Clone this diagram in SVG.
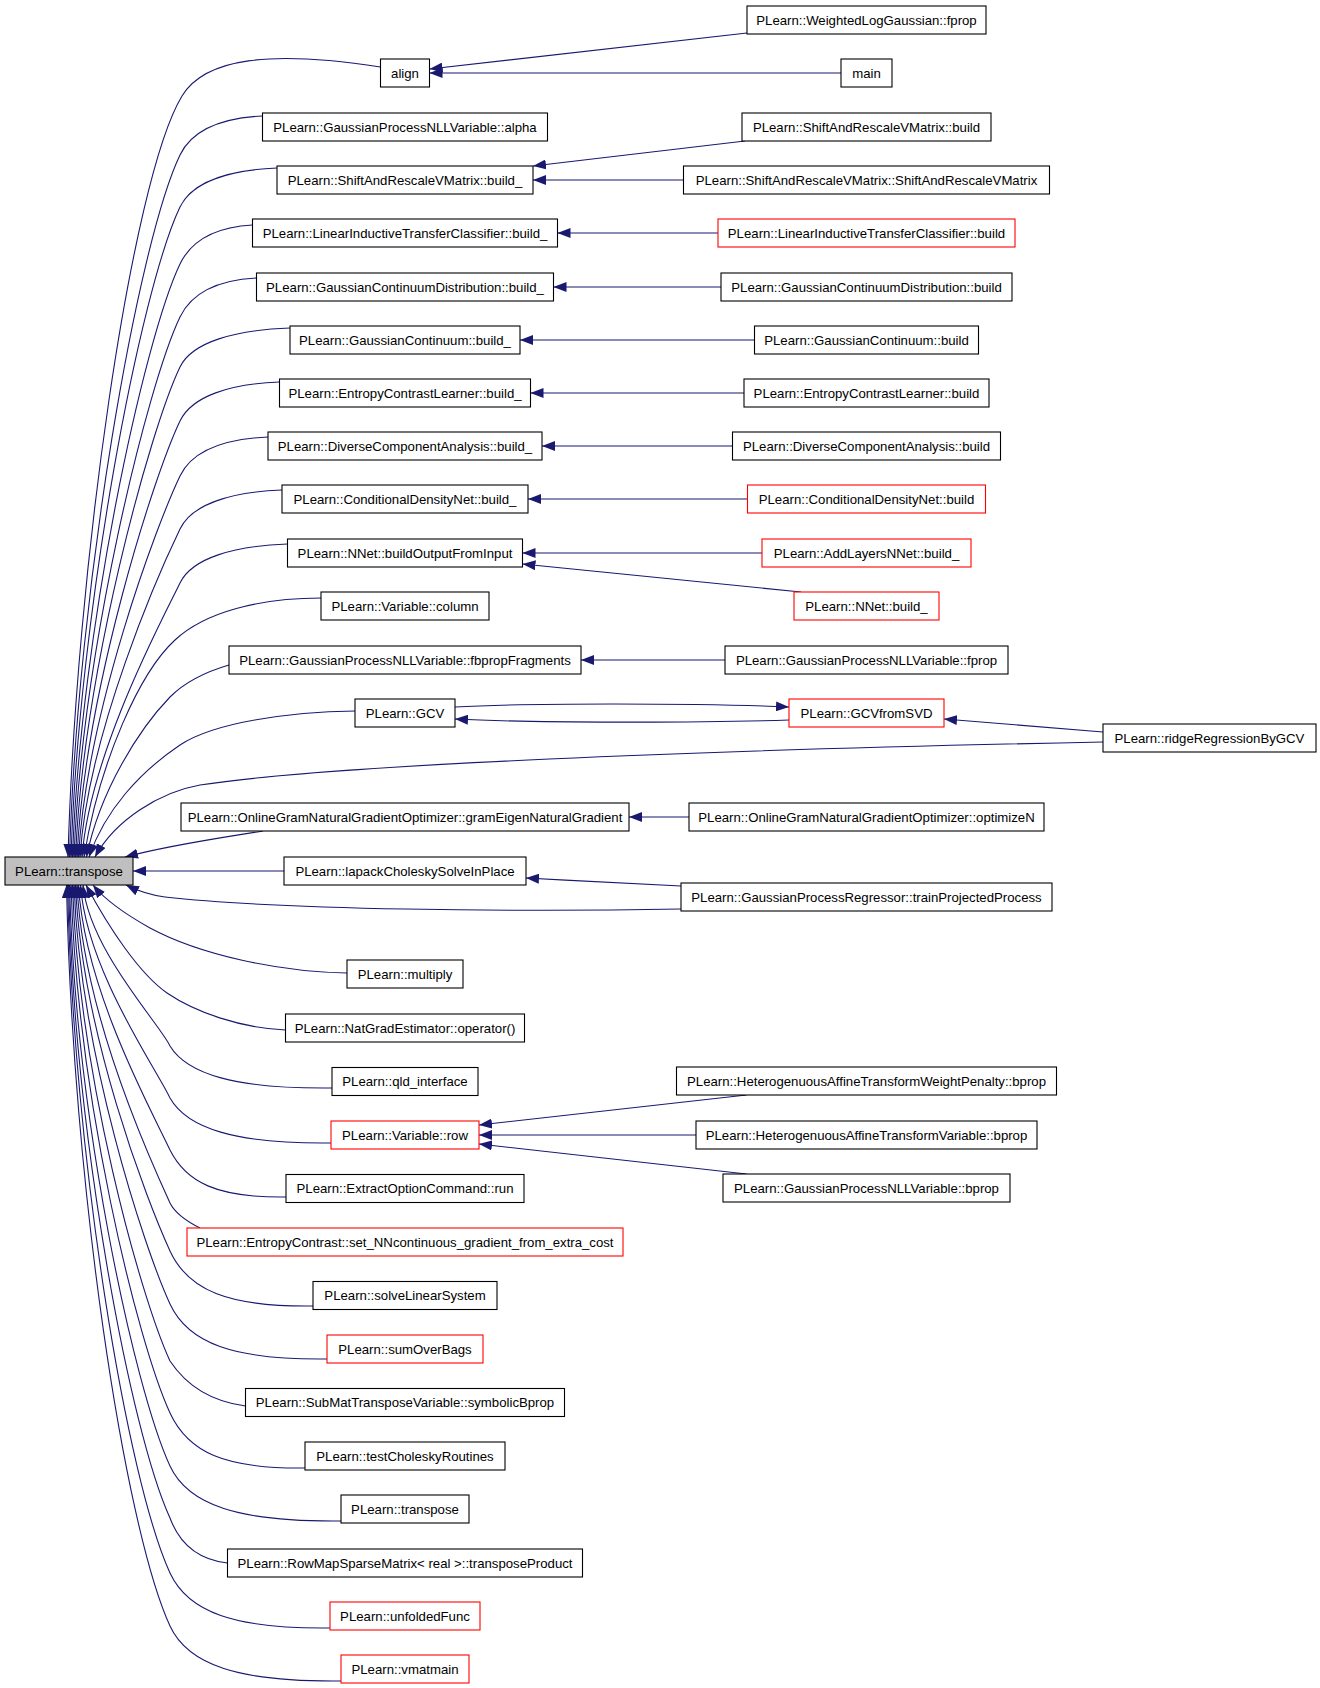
<svg xmlns="http://www.w3.org/2000/svg" width="1320" height="1688" viewBox="0 0 1320 1688">
<defs>
<style>
.n rect{fill:#ffffff;stroke:#000000;stroke-width:1.1}
.n.r rect{stroke:#ff0000}
.n.root rect{fill:#bfbfbf}
.n text{font-family:"Liberation Sans",Arial,Helvetica,sans-serif;font-size:13.2px;text-anchor:middle;fill:#000000}
.e path{fill:none;stroke:#191970;stroke-width:1.1;marker-end:url(#ah)}
</style>
<marker id="ah" markerUnits="userSpaceOnUse" markerWidth="13" markerHeight="10" viewBox="0 0 13 10" refX="13" refY="5" orient="auto">
<path d="M0,0 L13,5 L0,10 Z" fill="#191970"/>
</marker>
</defs>
<rect x="0" y="0" width="1320" height="1688" fill="#ffffff"/>
<g id="edges" class="e">
<path d="M747,33 L429.5,69"/>
<path d="M841,73 L429.5,73"/>
<path d="M745,141 L533,166"/>
<path d="M683.5,180 L533,180"/>
<path d="M718,233 L557.5,233"/>
<path d="M721,287 L553.5,287"/>
<path d="M754.5,340 L520,340"/>
<path d="M744,393 L530.5,393"/>
<path d="M732.5,446 L542,446"/>
<path d="M747.5,499 L528,499"/>
<path d="M762,553 L522.5,553"/>
<path d="M801,592 L522.5,564"/>
<path d="M725,660 L581,660"/>
<path d="M455,707 C520,703 700,703 789,707"/>
<path d="M789,720 C700,723 530,723 455,719"/>
<path d="M1103,732 L944,719"/>
<path d="M689,817 L629,817"/>
<path d="M681,886 C640,884 580,881 526,878"/>
<path d="M746.5,1095 L479,1125"/>
<path d="M696,1135 L479,1135"/>
<path d="M746.5,1174 L479,1144"/>
<path d="M380.5,67 C270,50 205,58 182,96 C131,180 76,571 68,857"/>
<path d="M262.5,116 C221.3,118 192,130 180,155 C137.4,243.7 77.5,590.2 69.5,857"/>
<path d="M277,168 C228.5,170 192,182 180,207 C140.6,289 79,610 71,857"/>
<path d="M252.5,225 C216.3,227 192,239 180,264 C144,339 80.5,631.7 72.5,857"/>
<path d="M256.5,278 C218.3,280 192,292 180,317 C147.2,385.3 82,651.8 74,857"/>
<path d="M290,328 C235,330 192,342 180,367 C150.2,429 83.5,670.8 75.5,857"/>
<path d="M279.5,382 C229.8,384 192,396 180,421 C153.6,476 85,691.3 77,857"/>
<path d="M268,437 C224,439 192,451 180,476 C156.8,524.3 86.5,712.2 78.5,857"/>
<path d="M282,490 C231,492 192,504 180,529 C160,570.5 88,732.4 80,857"/>
<path d="M287.5,544 C233.8,546 192,558 180,583 C163.4,617.5 90,752.9 82,857"/>
<path d="M321,598 C260,598 205,612 175,640 C140,672 100,760 84,857"/>
<path d="M229,665 C205,672 185,682 170,697 C140,728 100,790 86.5,857"/>
<path d="M355,711 C290,712 215,722 180,745 C140,772 105,810 89,857"/>
<path d="M1103,742 C700,750 330,765 200,785 C160,792 115,820 95,857"/>
<path d="M263,831 C220,838 170,845 125,857"/>
<path d="M284,871 L133,871"/>
<path d="M681,909 C520,912 280,910 165,897 C150,895 138,891 126,885"/>
<path d="M347,973 C280,972 200,955 150,928 C125,914 105,900 93,885"/>
<path d="M285.5,1030 C240,1028 195,1012 167,993 C140,974 110,930 86,885"/>
<path d="M332,1088 C235,1089 187,1074 170,1046 C160,1024.3 89,949.4 83,885"/>
<path d="M331,1143 C234.4,1144 187,1128 170,1098 C156.8,1069.3 86.5,970.2 80.5,885"/>
<path d="M286,1197 C216.4,1198 186,1182 170,1150 C153.5,1114.2 84.5,991 78.5,885"/>
<path d="M200,1228 C190,1223 176,1215 170,1203 C150.3,1160.1 83,1012.2 77,885"/>
<path d="M313,1306 C227.2,1307 188,1290 170,1251 C147.3,1201.6 81.5,1031.4 75.5,885"/>
<path d="M327,1359 C232.8,1360 188,1343 170,1304 C144,1247.5 80,1052.6 74,885"/>
<path d="M245.5,1406 C215,1402 188,1388 170,1361 C140.5,1296.8 78.5,1075.4 72.5,885"/>
<path d="M305,1468 C224,1469 188,1452 170,1413 C137.2,1341.8 77,1096.2 71,885"/>
<path d="M341,1521 C238.4,1522 188,1505 170,1466 C133.9,1387.6 75.5,1117.4 69.5,885"/>
<path d="M227.5,1563 C200,1560 180,1545 170,1518 C130.7,1432.6 74.5,1138.2 68.5,885"/>
<path d="M330,1628 C234,1629 188,1612 170,1573 C127.3,1480.2 73.5,1160.2 67.5,885"/>
<path d="M341,1681 C238.4,1682 188,1665 170,1626 C124,1526 72.5,1181.4 66.5,885"/>
</g>
<g id="n_root" class="n root"><rect x="5" y="857" width="128" height="28"/><text x="69" y="875.7">PLearn::transpose</text></g>
<g id="n_align" class="n"><rect x="380.5" y="59" width="49" height="28"/><text x="405" y="77.7">align</text></g>
<g id="n_alpha" class="n"><rect x="262.5" y="113" width="285" height="28"/><text x="405" y="131.7">PLearn::GaussianProcessNLLVariable::alpha</text></g>
<g id="n_sarvm_build_" class="n"><rect x="277" y="166" width="256" height="28"/><text x="405" y="184.7">PLearn::ShiftAndRescaleVMatrix::build_</text></g>
<g id="n_litc_build_" class="n"><rect x="252.5" y="219" width="305" height="28"/><text x="405" y="237.7">PLearn::LinearInductiveTransferClassifier::build_</text></g>
<g id="n_gcd_build_" class="n"><rect x="256.5" y="273" width="297" height="28"/><text x="405" y="291.7">PLearn::GaussianContinuumDistribution::build_</text></g>
<g id="n_gc_build_" class="n"><rect x="290" y="326" width="230" height="28"/><text x="405" y="344.7">PLearn::GaussianContinuum::build_</text></g>
<g id="n_ecl_build_" class="n"><rect x="279.5" y="379" width="251" height="28"/><text x="405" y="397.7">PLearn::EntropyContrastLearner::build_</text></g>
<g id="n_dca_build_" class="n"><rect x="268" y="432" width="274" height="28"/><text x="405" y="450.7">PLearn::DiverseComponentAnalysis::build_</text></g>
<g id="n_cdn_build_" class="n"><rect x="282" y="485" width="246" height="28"/><text x="405" y="503.7">PLearn::ConditionalDensityNet::build_</text></g>
<g id="n_buildoutput" class="n"><rect x="287.5" y="539" width="235" height="28"/><text x="405" y="557.7">PLearn::NNet::buildOutputFromInput</text></g>
<g id="n_column" class="n"><rect x="321" y="592" width="168" height="28"/><text x="405" y="610.7">PLearn::Variable::column</text></g>
<g id="n_fbprop" class="n"><rect x="229" y="646" width="352" height="28"/><text x="405" y="664.7">PLearn::GaussianProcessNLLVariable::fbpropFragments</text></g>
<g id="n_gcv" class="n"><rect x="355" y="699" width="100" height="28"/><text x="405" y="717.7">PLearn::GCV</text></g>
<g id="n_grameigen" class="n"><rect x="181" y="803" width="448" height="28"/><text x="405" y="821.7">PLearn::OnlineGramNaturalGradientOptimizer::gramEigenNaturalGradient</text></g>
<g id="n_lapack" class="n"><rect x="284" y="857" width="242" height="28"/><text x="405" y="875.7">PLearn::lapackCholeskySolveInPlace</text></g>
<g id="n_multiply" class="n"><rect x="347" y="960" width="116" height="28"/><text x="405" y="978.7">PLearn::multiply</text></g>
<g id="n_natgrad" class="n"><rect x="285.5" y="1014" width="239" height="28"/><text x="405" y="1032.7">PLearn::NatGradEstimator::operator()</text></g>
<g id="n_qld" class="n"><rect x="332" y="1067.5" width="146" height="28"/><text x="405" y="1086.2">PLearn::qld_interface</text></g>
<g id="n_row" class="n r"><rect x="331" y="1121" width="148" height="28"/><text x="405" y="1139.7">PLearn::Variable::row</text></g>
<g id="n_extract" class="n"><rect x="286" y="1174.5" width="238" height="28"/><text x="405" y="1193.2">PLearn::ExtractOptionCommand::run</text></g>
<g id="n_entropy" class="n r"><rect x="187" y="1228" width="436" height="28"/><text x="405" y="1246.7">PLearn::EntropyContrast::set_NNcontinuous_gradient_from_extra_cost</text></g>
<g id="n_solve" class="n"><rect x="313" y="1281.5" width="184" height="28"/><text x="405" y="1300.2">PLearn::solveLinearSystem</text></g>
<g id="n_sumoverbags" class="n r"><rect x="327" y="1335" width="156" height="28"/><text x="405" y="1353.7">PLearn::sumOverBags</text></g>
<g id="n_submat" class="n"><rect x="245.5" y="1388.5" width="319" height="28"/><text x="405" y="1407.2">PLearn::SubMatTransposeVariable::symbolicBprop</text></g>
<g id="n_testchol" class="n"><rect x="305" y="1442" width="200" height="28"/><text x="405" y="1460.7">PLearn::testCholeskyRoutines</text></g>
<g id="n_transpose2" class="n"><rect x="341" y="1495" width="128" height="28"/><text x="405" y="1513.7">PLearn::transpose</text></g>
<g id="n_rowmap" class="n"><rect x="227.5" y="1549" width="355" height="28"/><text x="405" y="1567.7">PLearn::RowMapSparseMatrix&lt; real &gt;::transposeProduct</text></g>
<g id="n_unfolded" class="n r"><rect x="330" y="1602" width="150" height="28"/><text x="405" y="1620.7">PLearn::unfoldedFunc</text></g>
<g id="n_vmatmain" class="n r"><rect x="341" y="1655" width="128" height="28"/><text x="405" y="1673.7">PLearn::vmatmain</text></g>
<g id="n_wlg_fprop" class="n"><rect x="747" y="6" width="239" height="28"/><text x="866.5" y="24.7">PLearn::WeightedLogGaussian::fprop</text></g>
<g id="n_main" class="n"><rect x="841" y="59" width="51" height="28"/><text x="866.5" y="77.7">main</text></g>
<g id="n_sarvm_build" class="n"><rect x="742" y="113" width="249" height="28"/><text x="866.5" y="131.7">PLearn::ShiftAndRescaleVMatrix::build</text></g>
<g id="n_sarvm_ctor" class="n"><rect x="683.5" y="166" width="366" height="28"/><text x="866.5" y="184.7">PLearn::ShiftAndRescaleVMatrix::ShiftAndRescaleVMatrix</text></g>
<g id="n_litc_build" class="n r"><rect x="718" y="219" width="297" height="28"/><text x="866.5" y="237.7">PLearn::LinearInductiveTransferClassifier::build</text></g>
<g id="n_gcd_build" class="n"><rect x="721" y="273" width="291" height="28"/><text x="866.5" y="291.7">PLearn::GaussianContinuumDistribution::build</text></g>
<g id="n_gc_build" class="n"><rect x="754.5" y="326" width="224" height="28"/><text x="866.5" y="344.7">PLearn::GaussianContinuum::build</text></g>
<g id="n_ecl_build" class="n"><rect x="744" y="379" width="245" height="28"/><text x="866.5" y="397.7">PLearn::EntropyContrastLearner::build</text></g>
<g id="n_dca_build" class="n"><rect x="732.5" y="432" width="268" height="28"/><text x="866.5" y="450.7">PLearn::DiverseComponentAnalysis::build</text></g>
<g id="n_cdn_build" class="n r"><rect x="747.5" y="485" width="238" height="28"/><text x="866.5" y="503.7">PLearn::ConditionalDensityNet::build</text></g>
<g id="n_addlayers" class="n r"><rect x="762" y="539" width="209" height="28"/><text x="866.5" y="557.7">PLearn::AddLayersNNet::build_</text></g>
<g id="n_nnet_build_" class="n r"><rect x="794" y="592" width="145" height="28"/><text x="866.5" y="610.7">PLearn::NNet::build_</text></g>
<g id="n_gpnllv_fprop" class="n"><rect x="725" y="646" width="283" height="28"/><text x="866.5" y="664.7">PLearn::GaussianProcessNLLVariable::fprop</text></g>
<g id="n_gcvfromsvd" class="n r"><rect x="789" y="699" width="155" height="28"/><text x="866.5" y="717.7">PLearn::GCVfromSVD</text></g>
<g id="n_optimizen" class="n"><rect x="689" y="803" width="355" height="28"/><text x="866.5" y="821.7">PLearn::OnlineGramNaturalGradientOptimizer::optimizeN</text></g>
<g id="n_trainproj" class="n"><rect x="681" y="883" width="371" height="28"/><text x="866.5" y="901.7">PLearn::GaussianProcessRegressor::trainProjectedProcess</text></g>
<g id="n_hatwp" class="n"><rect x="676.5" y="1067" width="380" height="28"/><text x="866.5" y="1085.7">PLearn::HeterogenuousAffineTransformWeightPenalty::bprop</text></g>
<g id="n_hatv" class="n"><rect x="696" y="1121" width="341" height="28"/><text x="866.5" y="1139.7">PLearn::HeterogenuousAffineTransformVariable::bprop</text></g>
<g id="n_gpnllv_bprop" class="n"><rect x="723" y="1174" width="287" height="28"/><text x="866.5" y="1192.7">PLearn::GaussianProcessNLLVariable::bprop</text></g>
<g id="n_ridge" class="n"><rect x="1103" y="724" width="213" height="28"/><text x="1209.5" y="742.7">PLearn::ridgeRegressionByGCV</text></g>
</svg>
